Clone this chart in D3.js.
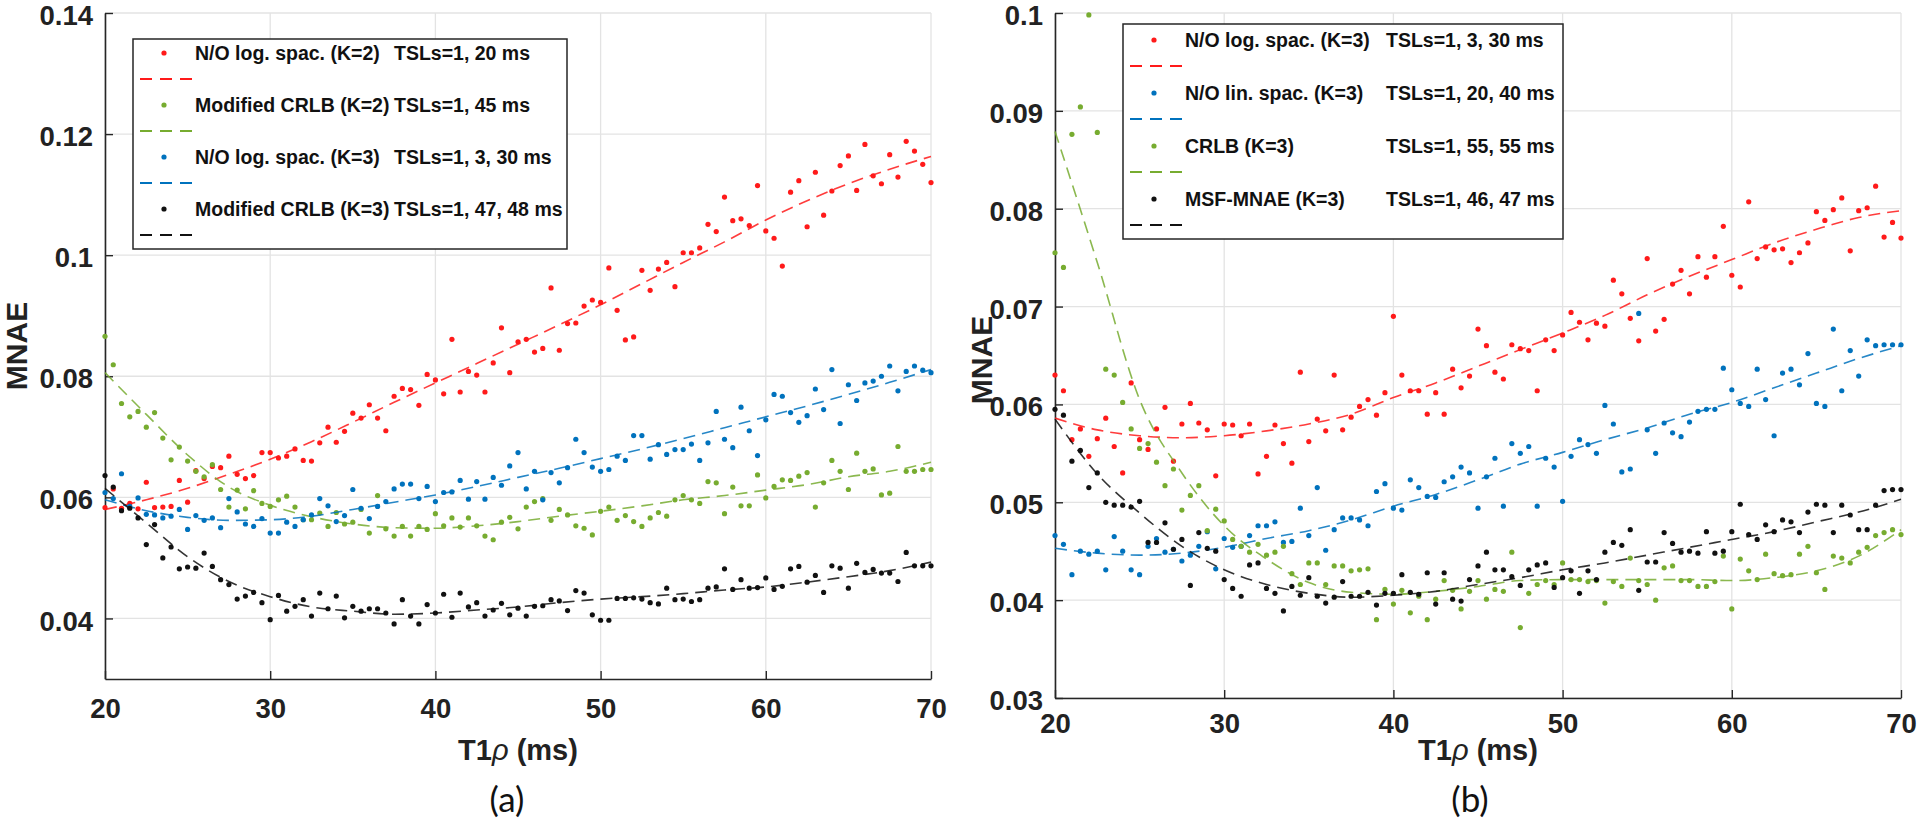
<!DOCTYPE html>
<html>
<head>
<meta charset="utf-8">
<script src="https://cdn.jsdelivr.net/npm/d3@7"></script>
<style>
  body { margin: 0; background: #fff; }
  svg { display: block; }
</style>
</head>
<body>
<script>
// T1rho sampling grid (ms)
var t1rho = [
  20, 20.5, 21, 21.5, 22, 22.5, 23, 23.5, 24, 24.5,
  25, 25.5, 26, 26.5, 27, 27.5, 28, 28.5, 29, 29.5,
  30, 30.5, 31, 31.5, 32, 32.5, 33, 33.5, 34, 34.5,
  35, 35.5, 36, 36.5, 37, 37.5, 38, 38.5, 39, 39.5,
  40, 40.5, 41, 41.5, 42, 42.5, 43, 43.5, 44, 44.5,
  45, 45.5, 46, 46.5, 47, 47.5, 48, 48.5, 49, 49.5,
  50, 50.5, 51, 51.5, 52, 52.5, 53, 53.5, 54, 54.5,
  55, 55.5, 56, 56.5, 57, 57.5, 58, 58.5, 59, 59.5,
  60, 60.5, 61, 61.5, 62, 62.5, 63, 63.5, 64, 64.5,
  65, 65.5, 66, 66.5, 67, 67.5, 68, 68.5, 69, 69.5,
  70
]
var fitT1rho = [20, 22.5, 25, 27.5, 30, 32.5, 35, 37.5, 40, 42.5, 45, 47.5, 50, 52.5, 55, 57.5, 60, 62.5, 65, 67.5, 70]

// ---- panel (a) ----
var aRedLog2 = [
  0.0583, 0.0614, 0.0582, 0.059, 0.0581, 0.0625, 0.0583, 0.0584, 0.0585, 0.0628,
  0.0592, 0.0644, 0.0631, 0.0651, 0.0649, 0.0668, 0.0638, 0.0631, 0.0636, 0.0674,
  0.0674, 0.0665, 0.0668, 0.068, 0.0661, 0.066, 0.069, 0.0716, 0.0691, 0.0709,
  0.0739, 0.0731, 0.0753, 0.0731, 0.071, 0.0767, 0.078, 0.0778, 0.0752, 0.0803,
  0.0794, 0.0771, 0.0861, 0.0774, 0.0808, 0.0802, 0.0774, 0.0822, 0.088, 0.0806,
  0.0857, 0.0861, 0.084, 0.0846, 0.0946, 0.0843, 0.0887, 0.0888, 0.0916, 0.0926,
  0.0922, 0.0979, 0.0909, 0.086, 0.0865, 0.0975, 0.0942, 0.0977, 0.0988, 0.0948,
  0.1004, 0.1004, 0.1012, 0.1051, 0.1039, 0.1096, 0.1057, 0.106, 0.1049, 0.1115,
  0.104, 0.1028, 0.0982, 0.1104, 0.1123, 0.1047, 0.1137, 0.1066, 0.1106, 0.1148,
  0.1164, 0.1107, 0.1183, 0.1131, 0.1118, 0.1166, 0.1129, 0.1188, 0.1172, 0.115,
  0.112
]
var aGreenCrlb2 = [
  0.0866, 0.0819, 0.0755, 0.0733, 0.0742, 0.0716, 0.074, 0.0698, 0.0662, 0.0683,
  0.066, 0.0643, 0.0634, 0.0654, 0.0613, 0.0584, 0.0612, 0.0581, 0.0611, 0.059,
  0.0585, 0.0596, 0.0602, 0.0584, 0.0563, 0.0563, 0.0574, 0.0552, 0.0575, 0.0556,
  0.0559, 0.058, 0.0541, 0.0603, 0.0548, 0.0536, 0.0552, 0.0536, 0.0552, 0.0547,
  0.0573, 0.0553, 0.0566, 0.0551, 0.0566, 0.0553, 0.0536, 0.053, 0.0559, 0.0567,
  0.0548, 0.0584, 0.0593, 0.0598, 0.0562, 0.058, 0.0571, 0.0553, 0.0549, 0.0538,
  0.0577, 0.0584, 0.0562, 0.057, 0.056, 0.0552, 0.0566, 0.0575, 0.0569, 0.0596,
  0.0603, 0.0596, 0.059, 0.0626, 0.0624, 0.0573, 0.0617, 0.0586, 0.0586, 0.0637,
  0.0599, 0.0618, 0.0629, 0.0628, 0.0635, 0.0641, 0.0584, 0.0624, 0.0661, 0.0643,
  0.0613, 0.0673, 0.0643, 0.0647, 0.0604, 0.0607, 0.0684, 0.0643, 0.0643, 0.0646,
  0.0646
]
var aBlueLog3 = [
  0.0608, 0.0598, 0.0639, 0.0585, 0.0599, 0.0572, 0.0571, 0.0566, 0.0569, 0.058,
  0.0547, 0.057, 0.0562, 0.0566, 0.055, 0.0598, 0.0576, 0.0556, 0.0552, 0.0565,
  0.0541, 0.0541, 0.0559, 0.0552, 0.0563, 0.0571, 0.0598, 0.0586, 0.056, 0.057,
  0.0613, 0.0582, 0.0565, 0.0585, 0.0593, 0.0614, 0.0622, 0.0622, 0.0598, 0.0618,
  0.0593, 0.0608, 0.0609, 0.0628, 0.0597, 0.0626, 0.0597, 0.0633, 0.062, 0.0652,
  0.0674, 0.0614, 0.0643, 0.0596, 0.0641, 0.0624, 0.0649, 0.0696, 0.0674, 0.065,
  0.0643, 0.0646, 0.0668, 0.0661, 0.0702, 0.0702, 0.0663, 0.0687, 0.0671, 0.0679,
  0.0679, 0.0688, 0.0661, 0.069, 0.0742, 0.0696, 0.0682, 0.0749, 0.071, 0.0669,
  0.0728, 0.077, 0.0767, 0.074, 0.0724, 0.0735, 0.0779, 0.0745, 0.0811, 0.0722,
  0.0786, 0.076, 0.0789, 0.0792, 0.08, 0.0817, 0.0776, 0.0808, 0.0817, 0.081,
  0.0806
]
var aBlackCrlb3 = [
  0.0636, 0.0617, 0.0578, 0.0582, 0.0566, 0.0522, 0.0555, 0.05, 0.0518, 0.0482,
  0.0485, 0.0483, 0.0508, 0.0486, 0.0464, 0.0456, 0.0432, 0.0437, 0.0443, 0.0426,
  0.0398, 0.0438, 0.0412, 0.042, 0.0431, 0.0404, 0.0442, 0.0416, 0.0437, 0.0401,
  0.042, 0.0412, 0.0416, 0.0416, 0.0409, 0.0391, 0.0431, 0.0404, 0.0391, 0.0423,
  0.0409, 0.044, 0.0402, 0.0442, 0.0419, 0.0426, 0.0404, 0.0414, 0.0425, 0.0406,
  0.0417, 0.0404, 0.042, 0.0421, 0.0431, 0.0429, 0.0413, 0.0446, 0.0442, 0.0406,
  0.0397, 0.0397, 0.0433, 0.0433, 0.0434, 0.0432, 0.0426, 0.0424, 0.045, 0.0431,
  0.0432, 0.0428, 0.0431, 0.045, 0.0452, 0.0482, 0.0448, 0.0464, 0.045, 0.0451,
  0.0467, 0.0448, 0.0453, 0.0482, 0.0486, 0.046, 0.0471, 0.0443, 0.0487, 0.0483,
  0.045, 0.0491, 0.0476, 0.0481, 0.0475, 0.0475, 0.0461, 0.0509, 0.0487, 0.0487,
  0.0487
]
var aRedFit = [0.058, 0.0596, 0.0615, 0.0638, 0.0663, 0.0692, 0.0724, 0.0757, 0.0789, 0.0821, 0.0853, 0.0885, 0.0918, 0.0953, 0.0988, 0.1022, 0.1058, 0.109, 0.1118, 0.1142, 0.1163]
var aGreenFit = [0.0806, 0.0737, 0.067, 0.0617, 0.0587, 0.0568, 0.0556, 0.055, 0.0549, 0.0553, 0.056, 0.0569, 0.0577, 0.0586, 0.0596, 0.0603, 0.0612, 0.0621, 0.0634, 0.0643, 0.0658]
var aBlueFit = [0.0596, 0.0578, 0.0567, 0.0562, 0.0563, 0.0569, 0.058, 0.0592, 0.0604, 0.0618, 0.0633, 0.0648, 0.0664, 0.068, 0.0697, 0.0715, 0.0733, 0.0751, 0.077, 0.079, 0.0811]
var aBlackFit = [0.0615, 0.0558, 0.0502, 0.0461, 0.0436, 0.0419, 0.0412, 0.0407, 0.0409, 0.0414, 0.0419, 0.0426, 0.0432, 0.0436, 0.0441, 0.0447, 0.0452, 0.046, 0.0469, 0.0479, 0.0493]
var aNames = ["N/O log. spac. (K=2)", "Modified CRLB (K=2)", "N/O log. spac. (K=3)", "Modified CRLB (K=3)"]
var aTsls = ["TSLs=1, 20 ms", "TSLs=1, 45 ms", "TSLs=1, 3, 30 ms", "TSLs=1, 47, 48 ms"]
var aYTicks = [0.04, 0.06, 0.08, 0.1, 0.12, 0.14]

// ---- panel (b) ----
var bRedLog3 = [
  0.063, 0.0614, 0.0564, 0.0575, 0.0547, 0.0565, 0.0586, 0.0557, 0.053, 0.0622,
  0.0564, 0.0554, 0.0575, 0.0597, 0.0542, 0.058, 0.0601, 0.0581, 0.0574, 0.0527,
  0.058, 0.0579, 0.0568, 0.058, 0.0529, 0.0547, 0.0579, 0.056, 0.054, 0.0633,
  0.0562, 0.0585, 0.0573, 0.063, 0.0574, 0.0587, 0.0598, 0.0605, 0.0589, 0.0612,
  0.069, 0.063, 0.0614, 0.0614, 0.059, 0.0612, 0.059, 0.0636, 0.0617, 0.0629,
  0.0677, 0.066, 0.0633, 0.0626, 0.0661, 0.0657, 0.0655, 0.0614, 0.0666, 0.0655,
  0.0671, 0.0694, 0.0684, 0.0666, 0.0683, 0.068, 0.0727, 0.0713, 0.0688, 0.0665,
  0.0749, 0.0675, 0.0687, 0.0723, 0.0737, 0.0713, 0.0751, 0.073, 0.0751, 0.0782,
  0.0732, 0.072, 0.0807, 0.0749, 0.0761, 0.0758, 0.0759, 0.0745, 0.0755, 0.0765,
  0.0797, 0.0788, 0.0799, 0.0811, 0.0757, 0.0798, 0.0801, 0.0823, 0.0771, 0.0786,
  0.077
]
var bBlueLin3 = [
  0.0466, 0.0457, 0.0426, 0.045, 0.0447, 0.045, 0.0431, 0.0465, 0.045, 0.0431,
  0.0426, 0.0455, 0.0463, 0.0449, 0.0452, 0.044, 0.0446, 0.0455, 0.047, 0.0432,
  0.0463, 0.0454, 0.0455, 0.0466, 0.0476, 0.0476, 0.048, 0.0459, 0.046, 0.0494,
  0.0466, 0.0515, 0.0451, 0.0472, 0.0484, 0.0484, 0.0482, 0.0476, 0.0511, 0.0519,
  0.0494, 0.0492, 0.0523, 0.0515, 0.0506, 0.0505, 0.0521, 0.0526, 0.0536, 0.053,
  0.0494, 0.0526, 0.0545, 0.0496, 0.056, 0.055, 0.0557, 0.0496, 0.0545, 0.0536,
  0.0501, 0.0547, 0.0564, 0.0559, 0.055, 0.0599, 0.058, 0.0531, 0.0534, 0.0693,
  0.0574, 0.055, 0.0581, 0.0571, 0.0567, 0.0582, 0.0593, 0.0595, 0.0595, 0.0637,
  0.0615, 0.0601, 0.0598, 0.0636, 0.0605, 0.0568, 0.0632, 0.0636, 0.062, 0.0652,
  0.0601, 0.0598, 0.0677, 0.0614, 0.0655, 0.0629, 0.0666, 0.066, 0.0661, 0.0661,
  0.0661
]
var bGreenCrlb3 = [
  0.0755, 0.074, 0.0876, 0.0904, 0.0998, 0.0878, 0.0636, 0.063, 0.0602, 0.0575,
  0.0555, 0.056, 0.0541, 0.0517, 0.0534, 0.0492, 0.0507, 0.0517, 0.0471, 0.0493,
  0.0481, 0.0462, 0.0455, 0.0449, 0.0457, 0.0446, 0.0449, 0.0455, 0.0427, 0.0416,
  0.0438, 0.0438, 0.0416, 0.0435, 0.0435, 0.043, 0.0431, 0.0432, 0.038, 0.0411,
  0.0396, 0.041, 0.0387, 0.0404, 0.038, 0.0401, 0.042, 0.041, 0.0391, 0.0409,
  0.042, 0.0401, 0.0411, 0.0409, 0.0449, 0.0372, 0.0407, 0.0416, 0.042, 0.0416,
  0.0438, 0.0421, 0.0421, 0.0419, 0.042, 0.0397, 0.0419, 0.0414, 0.0443, 0.042,
  0.0416, 0.04, 0.0433, 0.0435, 0.042, 0.042, 0.0414, 0.0414, 0.0419, 0.0445,
  0.0391, 0.0442, 0.043, 0.0421, 0.0447, 0.0427, 0.0425, 0.0426, 0.0447, 0.0455,
  0.0428, 0.0411, 0.0445, 0.0443, 0.0438, 0.0449, 0.0454, 0.0466, 0.0469, 0.0472,
  0.0467
]
var bBlackMsf3 = [
  0.0595, 0.0589, 0.0542, 0.0553, 0.0515, 0.053, 0.05, 0.0497, 0.0497, 0.0495,
  0.0501, 0.0459, 0.0459, 0.0479, 0.0452, 0.0462, 0.0415, 0.0469, 0.0453, 0.045,
  0.0421, 0.0412, 0.0404, 0.0436, 0.0438, 0.0412, 0.0407, 0.0389, 0.0414, 0.0405,
  0.0423, 0.0404, 0.0397, 0.0403, 0.0419, 0.0404, 0.0404, 0.0408, 0.0395, 0.0407,
  0.0407, 0.0426, 0.0408, 0.0406, 0.0428, 0.0396, 0.0428, 0.0401, 0.0399, 0.0421,
  0.0435, 0.0449, 0.0431, 0.0431, 0.0424, 0.0415, 0.0431, 0.0436, 0.0438, 0.0413,
  0.0423, 0.043, 0.0407, 0.043, 0.0421, 0.0449, 0.0459, 0.0456, 0.0472, 0.041,
  0.0439, 0.0439, 0.0469, 0.0458, 0.0449, 0.045, 0.0448, 0.047, 0.0448, 0.045,
  0.047, 0.0498, 0.0467, 0.0462, 0.0477, 0.047, 0.0482, 0.048, 0.0469, 0.049,
  0.0498, 0.0497, 0.0469, 0.0497, 0.0487, 0.0472, 0.0472, 0.0497, 0.0512, 0.0513,
  0.0513
]
var bRedFit = [0.0586, 0.0574, 0.0568, 0.0566, 0.0568, 0.0573, 0.058, 0.059, 0.0607, 0.0622, 0.0639, 0.0656, 0.0673, 0.0691, 0.0712, 0.0731, 0.0748, 0.0765, 0.0779, 0.0791, 0.0798]
var bBlueFit = [0.0453, 0.0448, 0.0446, 0.0448, 0.0454, 0.0463, 0.0471, 0.0482, 0.0496, 0.0508, 0.0523, 0.0539, 0.0551, 0.0564, 0.0576, 0.059, 0.0602, 0.0617, 0.0632, 0.0647, 0.066]
var bGreenFit = [0.0879, 0.0745, 0.0605, 0.053, 0.0476, 0.0442, 0.0418, 0.0408, 0.0406, 0.0409, 0.0414, 0.042, 0.0421, 0.0421, 0.0421, 0.0421, 0.042, 0.0423, 0.043, 0.0445, 0.0472]
var bBlackFit = [0.0585, 0.0529, 0.0489, 0.0455, 0.0431, 0.0416, 0.0407, 0.0403, 0.0405, 0.0409, 0.0416, 0.0423, 0.0431, 0.0438, 0.0446, 0.0454, 0.0462, 0.047, 0.048, 0.049, 0.0503]
var bNames = ["N/O log. spac. (K=3)", "N/O lin. spac. (K=3)", "CRLB (K=3)", "MSF-MNAE (K=3)"]
var bTsls = ["TSLs=1, 3, 30 ms", "TSLs=1, 20, 40 ms", "TSLs=1, 55, 55 ms", "TSLs=1, 46, 47 ms"]
var bYTicks = [0.03, 0.04, 0.05, 0.06, 0.07, 0.08, 0.09, 0.1]

var xTicks = [20, 30, 40, 50, 60, 70]

var RED = "#ff1a1a", GREEN = "#77ac30", BLUE = "#0072bd", BLACK = "#111"
var FONT = "'Liberation Sans', Arial, sans-serif"

var svg = d3.select("body")
  .append("svg")
  .attr("width", 1920)
  .attr("height", 823)
  .style("background", "#fff")

drawPanel({
  left: 105, right: 931, top: 13, bottom: 679,
  yDomain: [0.03, 0.14], yTicks: aYTicks, xPad: 19,
  series: [
    { name: aNames[0], tsl: aTsls[0], color: RED, pts: aRedLog2, fit: aRedFit },
    { name: aNames[1], tsl: aTsls[1], color: GREEN, pts: aGreenCrlb2, fit: aGreenFit },
    { name: aNames[2], tsl: aTsls[2], color: BLUE, pts: aBlueLog3, fit: aBlueFit },
    { name: aNames[3], tsl: aTsls[3], color: BLACK, pts: aBlackCrlb3, fit: aBlackFit }
  ],
  legend: { x: 133, y: 39, w: 434, h: 210, first: 14, step: 52, tslX: 261 },
  yTitle: [16, 346], xTitleY: 760, tag: "(a)", tagX: 507
})

drawPanel({
  left: 1055, right: 1901, top: 13, bottom: 698,
  yDomain: [0.03, 0.1], yTicks: bYTicks, xPad: 15,
  series: [
    { name: bNames[0], tsl: bTsls[0], color: RED, pts: bRedLog3, fit: bRedFit },
    { name: bNames[1], tsl: bTsls[1], color: BLUE, pts: bBlueLin3, fit: bBlueFit },
    { name: bNames[2], tsl: bTsls[2], color: GREEN, pts: bGreenCrlb3, fit: bGreenFit },
    { name: bNames[3], tsl: bTsls[3], color: BLACK, pts: bBlackMsf3, fit: bBlackFit }
  ],
  legend: { x: 1123, y: 24, w: 440, h: 215, first: 16, step: 53, tslX: 263 },
  yTitle: [981, 360], xTitleY: 760, tag: "(b)", tagX: 1470
})

function drawPanel(p) {
  var xScale = d3.scaleLinear().domain([20, 70]).range([p.left, p.right])
  var yScale = d3.scaleLinear().domain(p.yDomain).range([p.bottom, p.top])

  var g = svg.append("g")

  // grid
  var grid = g.append("g").attr("class", "grid")
  grid.selectAll("line.gx")
    .data(xTicks)
    .enter()
    .append("line")
    .attr("x1", d => xScale(d)).attr("x2", d => xScale(d))
    .attr("y1", p.top).attr("y2", p.bottom)
    .style("stroke", "#e3e3e3").style("stroke-width", 1.3)
  grid.selectAll("line.gy")
    .data(p.yTicks)
    .enter()
    .append("line")
    .attr("x1", p.left).attr("x2", p.right)
    .attr("y1", d => yScale(d)).attr("y2", d => yScale(d))
    .style("stroke", "#e3e3e3").style("stroke-width", 1.3)

  var gX = g.append("g")
    .attr("transform", `translate(0,${p.bottom})`)
    .call(d3.axisBottom(xScale).tickValues(xTicks).tickSize(-8).tickSizeOuter(0).tickPadding(p.xPad))
  var gY = g.append("g")
    .attr("transform", `translate(${p.left},0)`)
    .call(d3.axisLeft(yScale).tickValues(p.yTicks).tickFormat(d3.format("~g")).tickSize(-8).tickSizeOuter(0).tickPadding(12))

  ;[gX, gY].forEach(function(ax) {
    ax.select(".domain").style("stroke", "#262626").style("stroke-width", 1.6)
    ax.selectAll(".tick line").style("stroke", "#262626").style("stroke-width", 1.4)
    ax.selectAll(".tick text")
      .style("font-family", FONT)
      .style("font-size", "27.5px")
      .style("font-weight", "bold")
      .style("fill", "#222")
  })
  gY.selectAll(".tick text").attr("dy", "0.42em")

  // scatter + fitted dashed curves
  var line = d3.line()
    .curve(d3.curveMonotoneX)
    .x((d, i) => xScale(fitT1rho[i]))
    .y(d => yScale(d))

  p.series.forEach(function(s) {
    g.append("g")
      .selectAll("circle")
      .data(s.pts)
      .enter()
      .append("circle")
      .attr("cx", (d, i) => xScale(t1rho[i]))
      .attr("cy", d => yScale(d))
      .attr("r", 2.6)
      .style("fill", s.color)
    g.append("path")
      .attr("d", line(s.fit))
      .attr("fill", "none")
      .attr("stroke", s.color)
      .attr("stroke-width", 1.6)
      .attr("stroke-dasharray", "12,7")
      .style("opacity", 0.85)
  })

  // legend
  var L = p.legend
  var lg = g.append("g").attr("transform", `translate(${L.x},${L.y})`)
  lg.append("rect")
    .attr("width", L.w).attr("height", L.h)
    .style("fill", "#fff").style("stroke", "#262626").style("stroke-width", 1.5)
  var items = lg.selectAll("g.item")
    .data(p.series)
    .enter()
    .append("g")
    .attr("transform", (d, i) => `translate(0,${L.first + i * L.step})`)
  items.append("circle")
    .attr("cx", 31).attr("cy", 0).attr("r", 2.6)
    .style("fill", d => d.color)
  items.append("line")
    .attr("x1", 7).attr("x2", 60)
    .attr("y1", 26).attr("y2", 26)
    .attr("stroke", d => d.color)
    .attr("stroke-width", 1.8)
    .attr("stroke-dasharray", "12,8")
  items.append("text")
    .attr("x", 62).attr("y", 7)
    .text(d => d.name)
  items.append("text")
    .attr("x", L.tslX).attr("y", 7)
    .text(d => d.tsl)
  items.selectAll("text")
    .style("font-family", FONT)
    .style("font-size", "19.5px")
    .style("font-weight", "bold")
    .style("fill", "#111")

  // axis titles
  g.append("text")
    .attr("transform", `translate(${p.yTitle[0]},${p.yTitle[1]}) rotate(-90)`)
    .attr("text-anchor", "middle")
    .attr("dominant-baseline", "central")
    .text("MNAE")
    .style("font-family", FONT).style("font-size", "30px").style("font-weight", "bold").style("fill", "#222")

  var xt = g.append("text")
    .attr("x", (p.left + p.right) / 2)
    .attr("y", p.xTitleY)
    .attr("text-anchor", "middle")
    .style("font-family", FONT).style("font-size", "29px").style("font-weight", "bold").style("fill", "#222")
  xt.append("tspan").text("T1")
  xt.append("tspan").text("ρ").style("font-style", "italic").style("font-weight", "normal")
  xt.append("tspan").text(" (ms)")

  g.append("text")
    .attr("x", p.tagX).attr("y", 812)
    .attr("text-anchor", "middle")
    .text(p.tag)
    .style("font-family", "Lato, 'Open Sans', sans-serif").style("font-size", "35px").style("fill", "#111")
}
</script>
</body>
</html>
